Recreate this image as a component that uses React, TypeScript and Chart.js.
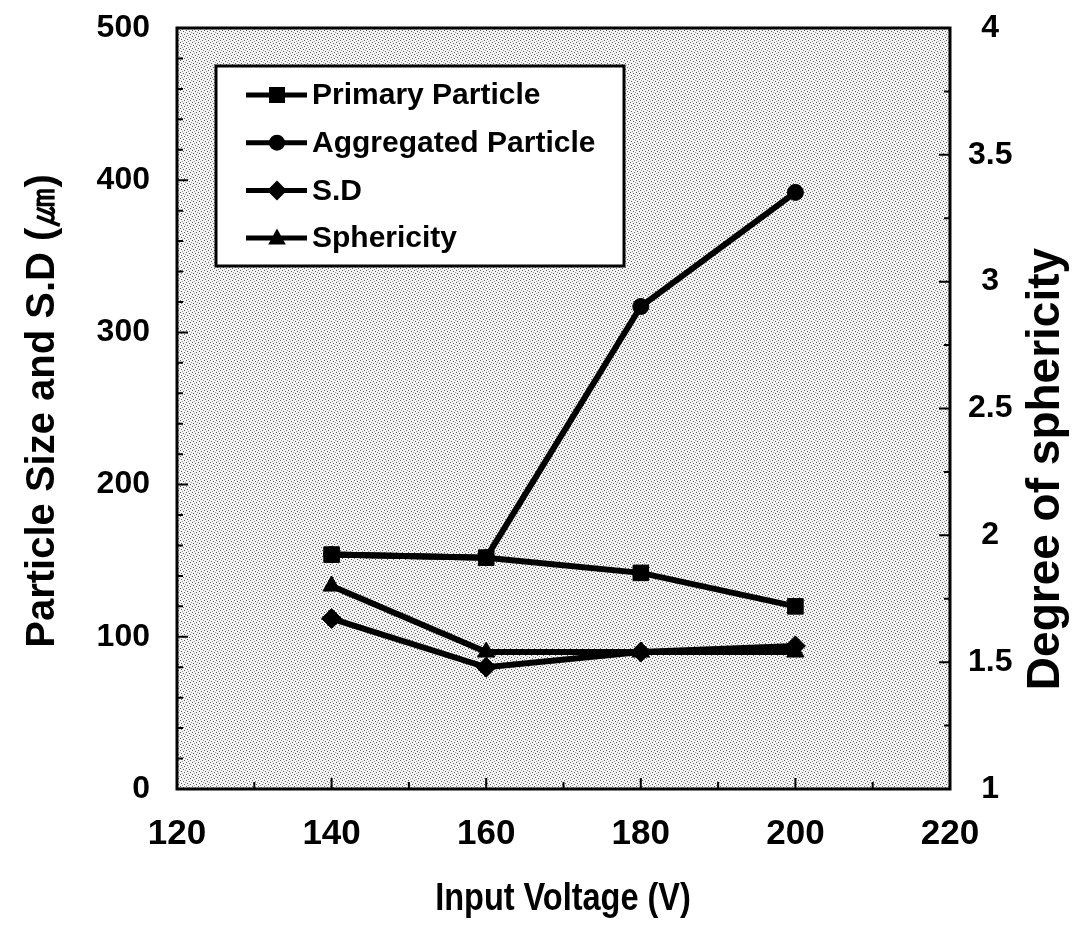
import React, { useEffect, useRef } from 'react';
import { Chart, registerables } from 'chart.js';

Chart.register(...registerables);

// Input voltage (V) at which each sample was made
const voltages = [140, 160, 180, 200];
// Particle sizes (µm) and standard deviation, left axis
const primaryParticle = [154, 152, 142, 120];
const aggregatedParticle = [154, 152, 317, 392];
const sizeSD = [112, 80, 90, 94];
// Degree of sphericity, right axis
const sphericity = [1.8, 1.54, 1.54, 1.54];

const seriesNames = ['Primary Particle', 'Aggregated Particle', 'S.D', 'Sphericity'];
const markerStyles = ['rect', 'circle', 'rectRot', 'triangle'];
const markerRadii = [11, 8, 10, 10];

const xTitle = 'Input Voltage (V)';
const leftTitle = 'Particle Size and S.D (㎛)';
const rightTitle = 'Degree of sphericity';

const SANS = '"Liberation Sans", Arial, Helvetica, sans-serif';

function pairs(values: number[]) {
  return voltages.map((v, i) => ({ x: v, y: values[i] }));
}

function drawMarker(ctx: CanvasRenderingContext2D, style: string, x: number, y: number, r: number) {
  ctx.beginPath();
  if (style === 'rect') {
    ctx.rect(x - r, y - r, 2 * r, 2 * r);
  } else if (style === 'circle') {
    ctx.arc(x, y, r, 0, Math.PI * 2);
  } else if (style === 'rectRot') {
    ctx.moveTo(x, y - r * 1.25);
    ctx.lineTo(x + r * 1.25, y);
    ctx.lineTo(x, y + r * 1.25);
    ctx.lineTo(x - r * 1.25, y);
    ctx.closePath();
  } else {
    ctx.moveTo(x, y - r * 1.2);
    ctx.lineTo(x + r * 1.1, y + r * 0.8);
    ctx.lineTo(x - r * 1.1, y + r * 0.8);
    ctx.closePath();
  }
  ctx.fill();
}

// light grainy fill used behind the plot
function stipplePattern(ctx: CanvasRenderingContext2D) {
  const tile = document.createElement('canvas');
  tile.width = 6;
  tile.height = 6;
  const t = tile.getContext('2d')!;
  t.fillStyle = '#f4f4f4';
  t.fillRect(0, 0, 6, 6);
  t.fillStyle = '#5a5a5a';
  t.fillRect(0, 0, 1, 1);
  t.fillRect(3, 1, 1, 1);
  t.fillRect(1, 3, 1, 1);
  t.fillRect(4, 4, 1, 1);
  t.fillStyle = '#9a9a9a';
  t.fillRect(5, 2, 1, 1);
  t.fillRect(2, 5, 1, 1);
  return ctx.createPattern(tile, 'repeat');
}

const decorPlugin = {
  id: 'decor',
  beforeDatasetsDraw(chart: any) {
    const { ctx, chartArea } = chart;
    ctx.save();
    ctx.fillStyle = stipplePattern(ctx) || '#e2e2e2';
    ctx.fillRect(chartArea.left, chartArea.top, chartArea.right - chartArea.left, chartArea.bottom - chartArea.top);
    ctx.restore();
  },
  afterDatasetsDraw(chart: any) {
    const { ctx, chartArea, scales } = chart;
    const { left, right, top, bottom } = chartArea;
    ctx.save();
    ctx.strokeStyle = '#000';
    ctx.lineWidth = 2;
    // inward tick marks
    ctx.beginPath();
    for (let v = 120; v <= 220; v += 10) {
      const px = scales.x.getPixelForValue(v);
      const len = (v - 120) % 20 === 0 ? 11 : 7;
      ctx.moveTo(px, bottom);
      ctx.lineTo(px, bottom - len);
    }
    for (let v = 0; v <= 500; v += 20) {
      const py = scales.y.getPixelForValue(v);
      const len = v % 100 === 0 ? 11 : 6;
      ctx.moveTo(left, py);
      ctx.lineTo(left + len, py);
    }
    for (let v = 1; v <= 4.0001; v += 0.25) {
      const py = scales.y1.getPixelForValue(v);
      const len = Math.abs(v * 2 - Math.round(v * 2)) < 1e-6 ? 11 : 6;
      ctx.moveTo(right, py);
      ctx.lineTo(right - len, py);
    }
    ctx.stroke();
    // frame
    ctx.lineWidth = 3;
    ctx.strokeRect(left, top, right - left, bottom - top);

    // legend box
    const lx = 216, ly = 66, lw = 408, lh = 200;
    ctx.fillStyle = '#fff';
    ctx.fillRect(lx, ly, lw, lh);
    ctx.lineWidth = 3;
    ctx.strokeRect(lx, ly, lw, lh);
    ctx.font = `bold 30px ${SANS}`;
    ctx.textBaseline = 'middle';
    ctx.textAlign = 'left';
    chart.data.datasets.forEach((ds: any, i: number) => {
      const cy = 95 + i * 47.7;
      ctx.strokeStyle = '#000';
      ctx.lineWidth = 5;
      ctx.beginPath();
      ctx.moveTo(246, cy);
      ctx.lineTo(307, cy);
      ctx.stroke();
      ctx.fillStyle = '#000';
      drawMarker(ctx, ds.pointStyle, 277, cy, 8);
      ctx.fillText(ds.label, 312, cy + 1);
    });
    ctx.restore();
  },
  afterDraw(chart: any) {
    const { ctx } = chart;
    ctx.save();
    ctx.fillStyle = '#000';
    ctx.textAlign = 'center';
    ctx.textBaseline = 'middle';
    ctx.font = `bold 38px ${SANS}`;
    ctx.translate(563, 900);
    ctx.scale(0.855, 1);
    ctx.fillText(xTitle, 0, 0);
    ctx.restore();

    ctx.save();
    ctx.fillStyle = '#000';
    ctx.textAlign = 'center';
    ctx.textBaseline = 'middle';
    ctx.font = `bold 40px ${SANS}`;
    ctx.translate(43, 411);
    ctx.rotate(-Math.PI / 2);
    ctx.fillText(leftTitle, 0, 0);
    ctx.restore();

    ctx.save();
    ctx.fillStyle = '#000';
    ctx.textAlign = 'center';
    ctx.textBaseline = 'middle';
    ctx.font = `bold 46px ${SANS}`;
    ctx.translate(1046, 469);
    ctx.rotate(-Math.PI / 2);
    ctx.fillText(rightTitle, 0, 0);
    ctx.restore();
  },
};

// keep label overflow from pushing the plot inward
function fixVertical(width: number) {
  return (s: any) => {
    s.width = width;
    s.paddingTop = 0;
    s.paddingBottom = 0;
  };
}

export default function App() {
  const canvasRef = useRef<HTMLCanvasElement | null>(null);

  useEffect(() => {
    const canvas = canvasRef.current;
    if (!canvas) return;
    const seriesValues = [primaryParticle, aggregatedParticle, sizeSD, sphericity];
    const datasets = seriesValues.map((vals, i) => ({
      label: seriesNames[i],
      data: pairs(vals),
      yAxisID: i === 3 ? 'y1' : 'y',
      borderColor: '#000',
      backgroundColor: '#000',
      borderWidth: 6,
      pointStyle: markerStyles[i],
      pointRadius: markerRadii[i],
      pointBackgroundColor: '#000',
      pointBorderColor: '#000',
      pointBorderWidth: 1,
      tension: 0,
      order: i,
    }));

    const tickFont = { family: SANS, size: 32, weight: 'bold' as const };
    const chart = new Chart(canvas, {
      type: 'line',
      data: { datasets },
      plugins: [decorPlugin],
      options: {
        animation: false,
        responsive: false,
        devicePixelRatio: 1,
        layout: { padding: { top: 28, left: 0, right: 0, bottom: 0 } },
        plugins: { legend: { display: false }, tooltip: { enabled: false } },
        scales: {
          x: {
            type: 'linear',
            min: 120,
            max: 220,
            ticks: { stepSize: 20, color: '#000', padding: 24, font: { family: SANS, size: 35, weight: 'bold' }, maxRotation: 0 },
            grid: { display: false, drawTicks: false },
            border: { display: false },
            afterFit: (s: any) => {
              s.height = 143;
              s.paddingLeft = 0;
              s.paddingRight = 0;
            },
          },
          y: {
            type: 'linear',
            position: 'left',
            min: 0,
            max: 500,
            ticks: { stepSize: 100, color: '#000', padding: 27, font: tickFont },
            grid: { display: false, drawTicks: false },
            border: { display: false },
            afterFit: fixVertical(177),
          },
          y1: {
            type: 'linear',
            position: 'right',
            min: 1,
            max: 4,
            ticks: {
              stepSize: 0.5,
              color: '#000',
              padding: 18,
              crossAlign: 'center',
              font: tickFont,
              callback: (v: any) => String(v),
            },
            grid: { display: false, drawTicks: false },
            border: { display: false },
            afterFit: fixVertical(136),
          },
        },
      },
    });
    return () => chart.destroy();
  }, []);

  return (
    <div style={{ position: 'fixed', left: 0, top: 0, width: 1086, height: 932, background: '#fff' }}>
      <canvas ref={canvasRef} width={1086} height={932} style={{ display: 'block' }} />
    </div>
  );
}
